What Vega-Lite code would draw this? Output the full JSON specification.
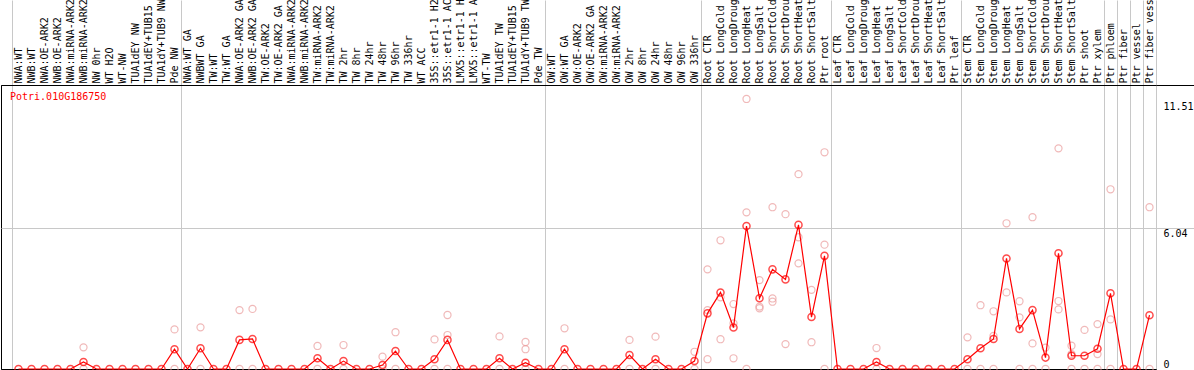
{
  "$schema": "https://vega.github.io/schema/vega-lite/v6.json",
  "width": 1155,
  "height": 284,
  "autosize": {"type": "none"},
  "padding": {"left": 1, "top": 85, "right": 38, "bottom": 1},
  "background": "white",
  "config": {"view": {"stroke": "black", "strokeWidth": 1}, "font": "DejaVu Sans Mono"},
  "datasets": {
    "means": [
      {"i":1,"s":"NWA:WT","v":0},{"i":2,"s":"NWB:WT","v":0},{"i":3,"s":"NWA:OE-ARK2","v":0},{"i":4,"s":"NWB:OE-ARK2","v":0},
      {"i":5,"s":"NWA:miRNA-ARK2","v":0},{"i":6,"s":"NWB:miRNA-ARK2","v":0.30},{"i":7,"s":"NW 0hr","v":0},{"i":8,"s":"WT H2O","v":0},
      {"i":9,"s":"WT-NW","v":0},{"i":10,"s":"TUA1dEY NW","v":0},{"i":11,"s":"TUA1dEY+TUB15 NW","v":0},{"i":12,"s":"TUA1dY+TUB9 NW","v":0},
      {"i":13,"s":"Pde NW","v":0.85},{"i":14,"s":"NWA:WT GA","v":0},{"i":15,"s":"NWBWT GA","v":0.89},{"i":16,"s":"TW:WT","v":0},
      {"i":17,"s":"TW:WT GA","v":0},{"i":18,"s":"NWA:OE-ARK2 GA","v":1.25},{"i":19,"s":"NWB:OE-ARK2 GA","v":1.29},{"i":20,"s":"TW:OE-ARK2","v":0},
      {"i":21,"s":"TW:OE-ARK2 GA","v":0},{"i":22,"s":"NWA:miRNA-ARK2 GA","v":0},{"i":23,"s":"NWB:miRNA-ARK2 GA","v":0},{"i":24,"s":"TW:miRNA-ARK2","v":0.46},
      {"i":25,"s":"TW:miRNA-ARK2 GA","v":0},{"i":26,"s":"TW 2hr","v":0.34},{"i":27,"s":"TW 8hr","v":0},{"i":28,"s":"TW 24hr","v":0},
      {"i":29,"s":"TW 48hr","v":0.17},{"i":30,"s":"TW 96hr","v":0.77},{"i":31,"s":"TW 336hr","v":0},{"i":32,"s":"WT ACC","v":0},
      {"i":33,"s":"35S::etr1-1 H2O","v":0.42},{"i":34,"s":"35S::etr1-1 ACC","v":1.25},{"i":35,"s":"LMX5::etr1-1 H2O","v":0},{"i":36,"s":"LMX5::etr1-1 ACC","v":0},
      {"i":37,"s":"WT-TW","v":0},{"i":38,"s":"TUA1dEY TW","v":0.46},{"i":39,"s":"TUA1dEY+TUB15 TW","v":0},{"i":40,"s":"TUA1dY+TUB9 TW","v":0.27},
      {"i":41,"s":"Pde TW","v":0},{"i":42,"s":"OW:WT","v":0},{"i":43,"s":"OW:WT GA","v":0.85},{"i":44,"s":"OW:OE-ARK2","v":0},
      {"i":45,"s":"OW:OE-ARK2 GA","v":0},{"i":46,"s":"OW:miRNA-ARK2","v":0},{"i":47,"s":"OW:miRNA-ARK2 GA","v":0},{"i":48,"s":"OW 2hr","v":0.60},
      {"i":49,"s":"OW 8hr","v":0},{"i":50,"s":"OW 24hr","v":0.42},{"i":51,"s":"OW 48hr","v":0},{"i":52,"s":"OW 96hr","v":0},
      {"i":53,"s":"OW 336hr","v":0.34},{"i":54,"s":"Root CTR","v":2.39},{"i":55,"s":"Root LongCold","v":3.29},{"i":56,"s":"Root LongDrought","v":1.78},
      {"i":57,"s":"Root LongHeat","v":6.14},{"i":58,"s":"Root LongSalt","v":3.04},{"i":59,"s":"Root ShortCold","v":4.28},{"i":60,"s":"Root ShortDrought","v":3.85},
      {"i":61,"s":"Root ShortHeat","v":6.19},{"i":62,"s":"Root ShortSalt","v":2.23},{"i":63,"s":"Ptr root","v":4.86},{"i":64,"s":"Leaf CTR","v":0},
      {"i":65,"s":"Leaf LongCold","v":0},{"i":66,"s":"Leaf LongDrought","v":0},{"i":67,"s":"Leaf LongHeat","v":0.30},{"i":68,"s":"Leaf LongSalt","v":0},
      {"i":69,"s":"Leaf ShortCold","v":0},{"i":70,"s":"Leaf ShortDrought","v":0},{"i":71,"s":"Leaf ShortHeat","v":0},{"i":72,"s":"Leaf ShortSalt","v":0},
      {"i":73,"s":"Ptr leaf","v":0},{"i":74,"s":"Stem CTR","v":0.42},{"i":75,"s":"Stem LongCold","v":0.89},{"i":76,"s":"Stem LongDrought","v":1.29},
      {"i":77,"s":"Stem LongHeat","v":4.75},{"i":78,"s":"Stem LongSalt","v":1.72},{"i":79,"s":"Stem ShortCold","v":2.53},{"i":80,"s":"Stem ShortDrought","v":0.49},
      {"i":81,"s":"Stem ShortHeat","v":4.97},{"i":82,"s":"Stem ShortSalt","v":0.57},{"i":83,"s":"Ptr shoot","v":0.57},{"i":84,"s":"Ptr xylem","v":0.87},
      {"i":85,"s":"Ptr phloem","v":3.25},{"i":86,"s":"Ptr fiber","v":0},{"i":87,"s":"Ptr vessel","v":0},{"i":88,"s":"Ptr fiber vessel","v":2.31}
    ],
    "reps": [
      {"i":6,"s":"NWB:miRNA-ARK2","v":0.93},{"i":6,"s":"NWB:miRNA-ARK2","v":0},
      {"i":13,"s":"Pde NW","v":1.70},{"i":13,"s":"Pde NW","v":0},
      {"i":15,"s":"NWBWT GA","v":1.79},{"i":15,"s":"NWBWT GA","v":0},
      {"i":18,"s":"NWA:OE-ARK2 GA","v":2.53},{"i":18,"s":"NWA:OE-ARK2 GA","v":0},
      {"i":19,"s":"NWB:OE-ARK2 GA","v":2.58},{"i":19,"s":"NWB:OE-ARK2 GA","v":0},
      {"i":24,"s":"TW:miRNA-ARK2","v":0.99},{"i":24,"s":"TW:miRNA-ARK2","v":0},
      {"i":26,"s":"TW 2hr","v":1.03},{"i":26,"s":"TW 2hr","v":0},
      {"i":29,"s":"TW 48hr","v":0.53},{"i":29,"s":"TW 48hr","v":0},
      {"i":30,"s":"TW 96hr","v":1.58},{"i":30,"s":"TW 96hr","v":0},
      {"i":33,"s":"35S::etr1-1 H2O","v":1.27},{"i":33,"s":"35S::etr1-1 H2O","v":0},
      {"i":34,"s":"35S::etr1-1 ACC","v":2.32},{"i":34,"s":"35S::etr1-1 ACC","v":1.46},{"i":34,"s":"35S::etr1-1 ACC","v":0},
      {"i":38,"s":"TUA1dEY TW","v":1.40},{"i":38,"s":"TUA1dEY TW","v":0},
      {"i":40,"s":"TUA1dY+TUB9 TW","v":1.16},{"i":40,"s":"TUA1dY+TUB9 TW","v":0.85},{"i":40,"s":"TUA1dY+TUB9 TW","v":0},
      {"i":43,"s":"OW:WT GA","v":1.75},{"i":43,"s":"OW:WT GA","v":0},
      {"i":48,"s":"OW 2hr","v":1.25},{"i":48,"s":"OW 2hr","v":0},
      {"i":50,"s":"OW 24hr","v":1.39},{"i":50,"s":"OW 24hr","v":0},
      {"i":53,"s":"OW 336hr","v":0.74},{"i":53,"s":"OW 336hr","v":0},
      {"i":54,"s":"Root CTR","v":4.28},{"i":54,"s":"Root CTR","v":2.53},{"i":54,"s":"Root CTR","v":0.42},
      {"i":55,"s":"Root LongCold","v":5.53},{"i":55,"s":"Root LongCold","v":3.08},{"i":55,"s":"Root LongCold","v":1.28},
      {"i":56,"s":"Root LongDrought","v":2.79},{"i":56,"s":"Root LongDrought","v":1.96},{"i":56,"s":"Root LongDrought","v":0.46},
      {"i":57,"s":"Root LongHeat","v":11.6},{"i":57,"s":"Root LongHeat","v":6.73},{"i":57,"s":"Root LongHeat","v":0},
      {"i":58,"s":"Root LongSalt","v":3.82},{"i":58,"s":"Root LongSalt","v":2.68},{"i":58,"s":"Root LongSalt","v":2.61},
      {"i":59,"s":"Root ShortCold","v":6.95},{"i":59,"s":"Root ShortCold","v":3.03},{"i":59,"s":"Root ShortCold","v":2.89},
      {"i":60,"s":"Root ShortDrought","v":6.65},{"i":60,"s":"Root ShortDrought","v":1.07},
      {"i":61,"s":"Root ShortHeat","v":8.37},{"i":61,"s":"Root ShortHeat","v":5.66},{"i":61,"s":"Root ShortHeat","v":4.54},
      {"i":62,"s":"Root ShortSalt","v":3.40},{"i":62,"s":"Root ShortSalt","v":1.15},
      {"i":63,"s":"Ptr root","v":9.31},{"i":63,"s":"Ptr root","v":5.34},{"i":63,"s":"Ptr root","v":0},
      {"i":67,"s":"Leaf LongHeat","v":0.90},{"i":67,"s":"Leaf LongHeat","v":0},
      {"i":74,"s":"Stem CTR","v":1.36},{"i":74,"s":"Stem CTR","v":0},
      {"i":75,"s":"Stem LongCold","v":2.74},{"i":75,"s":"Stem LongCold","v":0},
      {"i":76,"s":"Stem LongDrought","v":2.48},{"i":76,"s":"Stem LongDrought","v":1.42},{"i":76,"s":"Stem LongDrought","v":0},
      {"i":77,"s":"Stem LongHeat","v":6.26},{"i":77,"s":"Stem LongHeat","v":3.29},
      {"i":78,"s":"Stem LongSalt","v":2.91},{"i":78,"s":"Stem LongSalt","v":2.22},{"i":78,"s":"Stem LongSalt","v":0},
      {"i":79,"s":"Stem ShortCold","v":6.52},{"i":79,"s":"Stem ShortCold","v":1.10},{"i":79,"s":"Stem ShortCold","v":0},
      {"i":80,"s":"Stem ShortDrought","v":0.92},{"i":80,"s":"Stem ShortDrought","v":0},
      {"i":81,"s":"Stem ShortHeat","v":9.48},{"i":81,"s":"Stem ShortHeat","v":2.92},{"i":81,"s":"Stem ShortHeat","v":2.56},
      {"i":82,"s":"Stem ShortSalt","v":1.00},{"i":82,"s":"Stem ShortSalt","v":0.64},{"i":82,"s":"Stem ShortSalt","v":0},
      {"i":83,"s":"Ptr shoot","v":1.68},{"i":83,"s":"Ptr shoot","v":0},
      {"i":84,"s":"Ptr xylem","v":1.93},{"i":84,"s":"Ptr xylem","v":0.64},{"i":84,"s":"Ptr xylem","v":0},
      {"i":85,"s":"Ptr phloem","v":7.72},{"i":85,"s":"Ptr phloem","v":2.13},{"i":85,"s":"Ptr phloem","v":0},
      {"i":88,"s":"Ptr fiber vessel","v":6.95},{"i":88,"s":"Ptr fiber vessel","v":0}
    ],
    "gene": [{"name": "Potri.010G186750", "s": "NWA:WT", "i": 1}]
  },
  "encoding": {
    "x": {
      "field": "s", "type": "nominal",
      "sort": {"field": "i", "op": "min"},
      "scale": {"paddingInner": 0, "paddingOuter": 0.423, "align": 1},
      "axis": {
        "orient": "top", "title": null,
        "labelAngle": -90, "labelFont": "DejaVu Sans Mono", "labelFontSize": 10, "labelColor": "black",
        "labelPadding": -83, "labelOverlap": false, "labelBound": false, "labelLimit": 300,
        "tickBand": "extent", "tickSize": 85, "tickWidth": 1,
        "tickColor": {"condition": {"test": "datum.extra || datum.value == 'Pde NW' || datum.value == 'Pde TW' || datum.value == 'OW 336hr' || datum.value == 'Ptr root' || datum.value == 'Ptr leaf' || datum.value == 'Ptr xylem' || datum.value == 'Ptr phloem' || datum.value == 'Ptr fiber' || datum.value == 'Ptr vessel' || datum.value == 'Ptr fiber vessel'", "value": "#c8c8c8"}, "value": "transparent"},
        "grid": true, "gridWidth": 1,
        "gridColor": {"condition": {"test": "datum.extra || datum.value == 'Pde NW' || datum.value == 'Pde TW' || datum.value == 'OW 336hr' || datum.value == 'Ptr root' || datum.value == 'Ptr leaf' || datum.value == 'Ptr xylem' || datum.value == 'Ptr phloem' || datum.value == 'Ptr fiber' || datum.value == 'Ptr vessel' || datum.value == 'Ptr fiber vessel'", "value": "#c8c8c8"}, "value": "transparent"},
        "domain": true, "domainColor": "black", "domainWidth": 1
      }
    }
  },
  "layer": [
    {
      "data": {"name": "reps"},
      "mark": {"type": "point", "shape": "circle", "filled": false, "size": 50, "stroke": "#eb9c9c", "strokeWidth": 1.2},
      "encoding": {
        "y": {
          "field": "v", "type": "quantitative",
          "scale": {"domain": [0, 12.2], "nice": false, "zero": true},
          "axis": {
            "orient": "right", "title": null,
            "values": [0, 6.04, 11.51, 12.2], "format": ".2~f",
            "labelExpr": "datum.value > 12 ? '' : datum.label",
            "labelFont": "DejaVu Sans Mono", "labelFontSize": 10, "labelColor": "black",
            "labelPadding": -31, "labelAlign": "left",
            "labelBaseline": {"condition": {"test": "datum.value == 0", "value": "bottom"}, "value": "top"},
            "domain": false, "tickSize": 38, "tickWidth": 1,
            "tickColor": {"condition": [{"test": "datum.value > 12", "value": "black"}, {"test": "datum.value == 6.04", "value": "#c8c8c8"}], "value": "transparent"},
            "grid": true, "gridWidth": 1,
            "gridColor": {"condition": [{"test": "datum.value == 0", "value": "black"}, {"test": "datum.value == 6.04", "value": "#c8c8c8"}], "value": "transparent"}
          }
        }
      }
    },
    {
      "data": {"name": "means"},
      "mark": {"type": "line", "color": "#ff0000", "strokeWidth": 1.2},
      "encoding": {
        "y": {"field": "v", "type": "quantitative"}
      }
    },
    {
      "data": {"name": "means"},
      "mark": {"type": "point", "shape": "circle", "filled": false, "size": 50, "stroke": "#ff0000", "strokeWidth": 1.5},
      "encoding": {
        "y": {"field": "v", "type": "quantitative"}
      }
    },
    {
      "data": {"name": "gene"},
      "mark": {"type": "text", "color": "#ff0000", "font": "DejaVu Sans Mono", "fontSize": 10, "align": "left", "baseline": "alphabetic", "dx": -8.5, "dy": 15},
      "encoding": {
        "y": {"datum": 12.2, "type": "quantitative"},
        "text": {"field": "name"}
      }
    }
  ]
}
